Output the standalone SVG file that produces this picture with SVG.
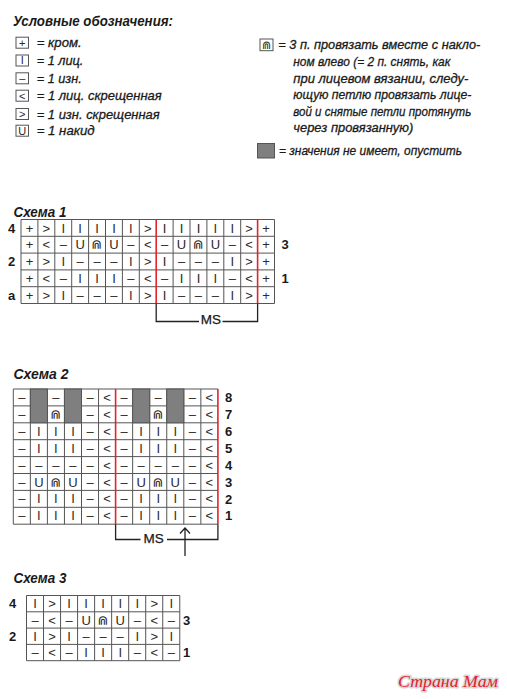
<svg xmlns="http://www.w3.org/2000/svg" width="507" height="699" viewBox="0 0 507 699">
<style>
.ttl{font-family:"Liberation Sans",Arial,sans-serif;font-weight:bold;font-style:italic;fill:#1a1a1a}
.lg{font-family:"Liberation Sans",Arial,sans-serif;font-style:italic;font-size:13.5px;fill:#1a1a1a;stroke:#1a1a1a;stroke-width:0.3}
.sy{font-family:"Liberation Sans","DejaVu Sans",sans-serif;font-size:13px;fill:#2a2a2a;text-anchor:middle}
.sys{font-family:"Liberation Sans","DejaVu Sans",sans-serif;font-size:11px;fill:#2a2a2a;text-anchor:middle}
.dj{font-family:"DejaVu Sans",sans-serif}
.num{font-family:"Liberation Sans",Arial,sans-serif;font-weight:bold;font-size:13px;fill:#1a1a1a;text-anchor:middle}
.ms{font-family:"Liberation Sans",Arial,sans-serif;font-size:13.5px;fill:#1a1a1a;text-anchor:middle;stroke:#1a1a1a;stroke-width:0.25}
.grid{fill:none;stroke:#555;stroke-width:1}
.red{fill:none;stroke:#e3252b;stroke-width:1.6}
.br{fill:none;stroke:#222;stroke-width:1.3}
.box{fill:#fff;stroke:#555;stroke-width:1}
.gray{fill:#7f7f7f;stroke:#555;stroke-width:1}
</style>

<g id="legend" opacity="0.999">
  <text class="ttl" x="13" y="26" font-size="15" textLength="160" lengthAdjust="spacingAndGlyphs">Условные обозначения:</text>
  <rect class="box" x="16" y="37.2" width="12.5" height="11"/>
  <text class="sys" x="22.2" y="46.5">+</text>
  <text class="lg" x="36.7" y="47" textLength="45" lengthAdjust="spacingAndGlyphs">= кром.</text>
  <rect class="box" x="16" y="55" width="12.5" height="11"/>
  <text class="sys" x="22.2" y="64.3">I</text>
  <text class="lg" x="36.7" y="65" textLength="46.7" lengthAdjust="spacingAndGlyphs">= 1 лиц.</text>
  <rect class="box" x="16" y="72.8" width="12.5" height="11"/>
  <text class="sys" x="22.2" y="82.1">–</text>
  <text class="lg" x="36.7" y="82.7" textLength="45" lengthAdjust="spacingAndGlyphs">= 1 изн.</text>
  <rect class="box" x="16" y="90.2" width="12.5" height="11"/>
  <text class="sys" x="22.2" y="99.5">&lt;</text>
  <text class="lg" x="36.7" y="100.2" textLength="125" lengthAdjust="spacingAndGlyphs">= 1 лиц. скрещенная</text>
  <rect class="box" x="16" y="108.5" width="12.5" height="11"/>
  <text class="sys" x="22.2" y="117.8">&gt;</text>
  <text class="lg" x="36.7" y="118.5" textLength="123" lengthAdjust="spacingAndGlyphs">= 1 изн. скрещенная</text>
  <rect class="box" x="16" y="125.2" width="12.5" height="11"/>
  <text class="sys" x="22.2" y="134.5">U</text>
  <text class="lg" x="36.7" y="135.2" textLength="58" lengthAdjust="spacingAndGlyphs">= 1 накид</text>

  <rect class="box" x="260" y="39" width="13" height="11.7"/>
  <text class="sys" x="266.5" y="48.6"><tspan class="dj">⋒</tspan></text>
  <text class="lg" x="278.3" y="49.3" textLength="202" lengthAdjust="spacingAndGlyphs">= 3 п. провязать вместе с накло-</text>
  <text class="lg" x="293.3" y="65.9" textLength="157" lengthAdjust="spacingAndGlyphs">ном влево (= 2 п. снять, как</text>
  <text class="lg" x="293.3" y="82.5" textLength="175" lengthAdjust="spacingAndGlyphs">при лицевом вязании, следу-</text>
  <text class="lg" x="293.3" y="99.1" textLength="178" lengthAdjust="spacingAndGlyphs">ющую петлю провязать лице-</text>
  <text class="lg" x="293.3" y="115.7" textLength="178" lengthAdjust="spacingAndGlyphs">вой и снятые петли протянуть</text>
  <text class="lg" x="293.3" y="132.3" textLength="120" lengthAdjust="spacingAndGlyphs">через провязанную)</text>
  <rect class="gray" x="257.5" y="143.5" width="17" height="14.5"/>
  <text class="lg" x="279" y="155.2" textLength="183" lengthAdjust="spacingAndGlyphs">= значения не имеет, опустить</text>
</g>

<g id="schema1" opacity="0.999">
  <text class="ttl" x="13.5" y="217" font-size="15" textLength="53" lengthAdjust="spacingAndGlyphs">Схема 1</text>
  <path class="grid" d="M21 219.5V303.5M37.9 219.5V303.5M54.8 219.5V303.5M71.7 219.5V303.5M88.6 219.5V303.5M105.5 219.5V303.5M122.4 219.5V303.5M139.3 219.5V303.5M173.1 219.5V303.5M190 219.5V303.5M206.9 219.5V303.5M223.8 219.5V303.5M240.7 219.5V303.5M274.5 219.5V303.5M21 219.5H274.5M21 236.3H274.5M21 253.1H274.5M21 269.9H274.5M21 286.7H274.5M21 303.5H274.5"/>
  <path class="red" d="M156.2 219.5V303.5M257.6 219.5V303.5"/>
  <text class="sy" x="29.45 46.35 63.25 80.15 97.05 113.95 130.85 147.75 164.65 181.55 198.45 215.35 232.25 249.15 266.05" y="232.5">+&gt;IIIII&gt;IIIII&gt;+</text>
  <text class="sy" x="29.45 46.35 63.25 80.15 97.05 113.95 130.85 147.75 164.65 181.55 198.45 215.35 232.25 249.15 266.05" y="249.3">+&lt;–U<tspan class="dj">⋒</tspan>U–&lt;–U<tspan class="dj">⋒</tspan>U–&lt;+</text>
  <text class="sy" x="29.45 46.35 63.25 80.15 97.05 113.95 130.85 147.75 164.65 181.55 198.45 215.35 232.25 249.15 266.05" y="266.1">+&gt;I–––I&gt;I–––I&gt;+</text>
  <text class="sy" x="29.45 46.35 63.25 80.15 97.05 113.95 130.85 147.75 164.65 181.55 198.45 215.35 232.25 249.15 266.05" y="282.9">+&lt;–III–&lt;–III–&lt;+</text>
  <text class="sy" x="29.45 46.35 63.25 80.15 97.05 113.95 130.85 147.75 164.65 181.55 198.45 215.35 232.25 249.15 266.05" y="299.7">+&gt;I–––I&gt;I–––I&gt;+</text>
  <text class="num" x="11.7" y="232.6">4</text>
  <text class="num" x="11.7" y="266.2">2</text>
  <text class="num" x="11.7" y="299.6">a</text>
  <text class="num" x="285" y="249.3">3</text>
  <text class="num" x="285" y="282.9">1</text>
  <path class="br" d="M156.2 303.5V321.5H199M222.5 321.5H257.6V303.5"/>
  <text class="ms" x="210.8" y="324.3">MS</text>
</g>

<g id="schema2" opacity="0.999">
  <text class="ttl" x="13.5" y="378.5" font-size="15" textLength="55" lengthAdjust="spacingAndGlyphs">Схема 2</text>
  <path class="grid" d="M13.3 389V524.2M30.35 389V524.2M47.4 389V524.2M64.45 389V524.2M81.5 389V524.2M98.55 389V524.2M132.65 389V524.2M149.7 389V524.2M166.75 389V524.2M183.8 389V524.2M200.85 389V524.2M13.3 389H217.9M13.3 405.9H217.9M13.3 422.8H217.9M13.3 439.7H217.9M13.3 456.6H217.9M13.3 473.5H217.9M13.3 490.4H217.9M13.3 507.3H217.9M13.3 524.2H217.9"/>
  <rect class="gray" x="30.35" y="389" width="17.05" height="33.8"/>
  <rect class="gray" x="64.45" y="389" width="17.05" height="33.8"/>
  <rect class="gray" x="132.65" y="389" width="17.05" height="33.8"/>
  <rect class="gray" x="166.75" y="389" width="17.05" height="33.8"/>
  <path class="red" d="M115.6 389V524.2M217.9 389V524.2"/>
  <text class="sy" x="21.83 55.93 90.03 107.08 124.13 158.23 192.33 209.38" y="402">–––&lt;–––&lt;</text>
  <text class="sy" x="21.83 55.93 90.03 107.08 124.13 158.23 192.33 209.38" y="418.9">–<tspan class="dj">⋒</tspan>–&lt;–<tspan class="dj">⋒</tspan>–&lt;</text>
  <text class="sy" x="21.83 38.88 55.93 72.98 90.03 107.08 124.13 141.18 158.23 175.28 192.33 209.38" y="435.8">–III–&lt;–III–&lt;</text>
  <text class="sy" x="21.83 38.88 55.93 72.98 90.03 107.08 124.13 141.18 158.23 175.28 192.33 209.38" y="452.7">–III–&lt;–III–&lt;</text>
  <text class="sy" x="21.83 38.88 55.93 72.98 90.03 107.08 124.13 141.18 158.23 175.28 192.33 209.38" y="469.6">–––––&lt;–––––&lt;</text>
  <text class="sy" x="21.83 38.88 55.93 72.98 90.03 107.08 124.13 141.18 158.23 175.28 192.33 209.38" y="486.5">–U<tspan class="dj">⋒</tspan>U–&lt;–U<tspan class="dj">⋒</tspan>U–&lt;</text>
  <text class="sy" x="21.83 38.88 55.93 72.98 90.03 107.08 124.13 141.18 158.23 175.28 192.33 209.38" y="503.4">–III–&lt;–III–&lt;</text>
  <text class="sy" x="21.83 38.88 55.93 72.98 90.03 107.08 124.13 141.18 158.23 175.28 192.33 209.38" y="520.3">–III–&lt;–III–&lt;</text>
  <text class="num" x="228.5" y="402.1">8</text>
  <text class="num" x="228.5" y="419">7</text>
  <text class="num" x="228.5" y="435.9">6</text>
  <text class="num" x="228.5" y="452.8">5</text>
  <text class="num" x="228.5" y="469.7">4</text>
  <text class="num" x="228.5" y="486.6">3</text>
  <text class="num" x="228.5" y="503.5">2</text>
  <text class="num" x="228.5" y="520.4">1</text>
  <path class="br" d="M115.6 524.2V539.5H140.5M167 539.5H217.9V524.2"/>
  <text class="ms" x="153.6" y="542.5">MS</text>
  <path class="br" d="M185 528V556M180 533.5L185 528L190 533.5"/>
</g>

<g id="schema3" opacity="0.999">
  <text class="ttl" x="13.5" y="583" font-size="15" textLength="53" lengthAdjust="spacingAndGlyphs">Схема 3</text>
  <path class="grid" d="M26.5 595.5V660.7M43.53 595.5V660.7M60.56 595.5V660.7M77.59 595.5V660.7M94.62 595.5V660.7M111.65 595.5V660.7M128.68 595.5V660.7M145.71 595.5V660.7M162.74 595.5V660.7M179.77 595.5V660.7M26.5 595.5H179.77M26.5 611.8H179.77M26.5 628.1H179.77M26.5 644.4H179.77M26.5 660.7H179.77"/>
  <text class="sy" x="35 52.05 69.1 86.1 103.15 120.2 137.25 154.3 171.3" y="608.2">I&gt;IIIII&gt;I</text>
  <text class="sy" x="35 52.05 69.1 86.1 103.15 120.2 137.25 154.3 171.3" y="624.5">–&lt;–U<tspan class="dj">⋒</tspan>U–&lt;–</text>
  <text class="sy" x="35 52.05 69.1 86.1 103.15 120.2 137.25 154.3 171.3" y="640.8">I&gt;I–––I&gt;I</text>
  <text class="sy" x="35 52.05 69.1 86.1 103.15 120.2 137.25 154.3 171.3" y="657.1">–&lt;–III–&lt;–</text>
  <text class="num" x="12.5" y="608.3">4</text>
  <text class="num" x="12.5" y="640.9">2</text>
  <text class="num" x="186.7" y="624.6">3</text>
  <text class="num" x="186.7" y="657.2">1</text>
</g>

<g id="watermark" opacity="0.999">
  <text x="398" y="687" font-family="Liberation Serif,serif" font-style="italic" font-size="17" fill="#e8202a" stroke="#d8d8d8" stroke-width="3" paint-order="stroke" stroke-linejoin="round" textLength="100" lengthAdjust="spacingAndGlyphs">Страна Мам</text>
</g>
</svg>
